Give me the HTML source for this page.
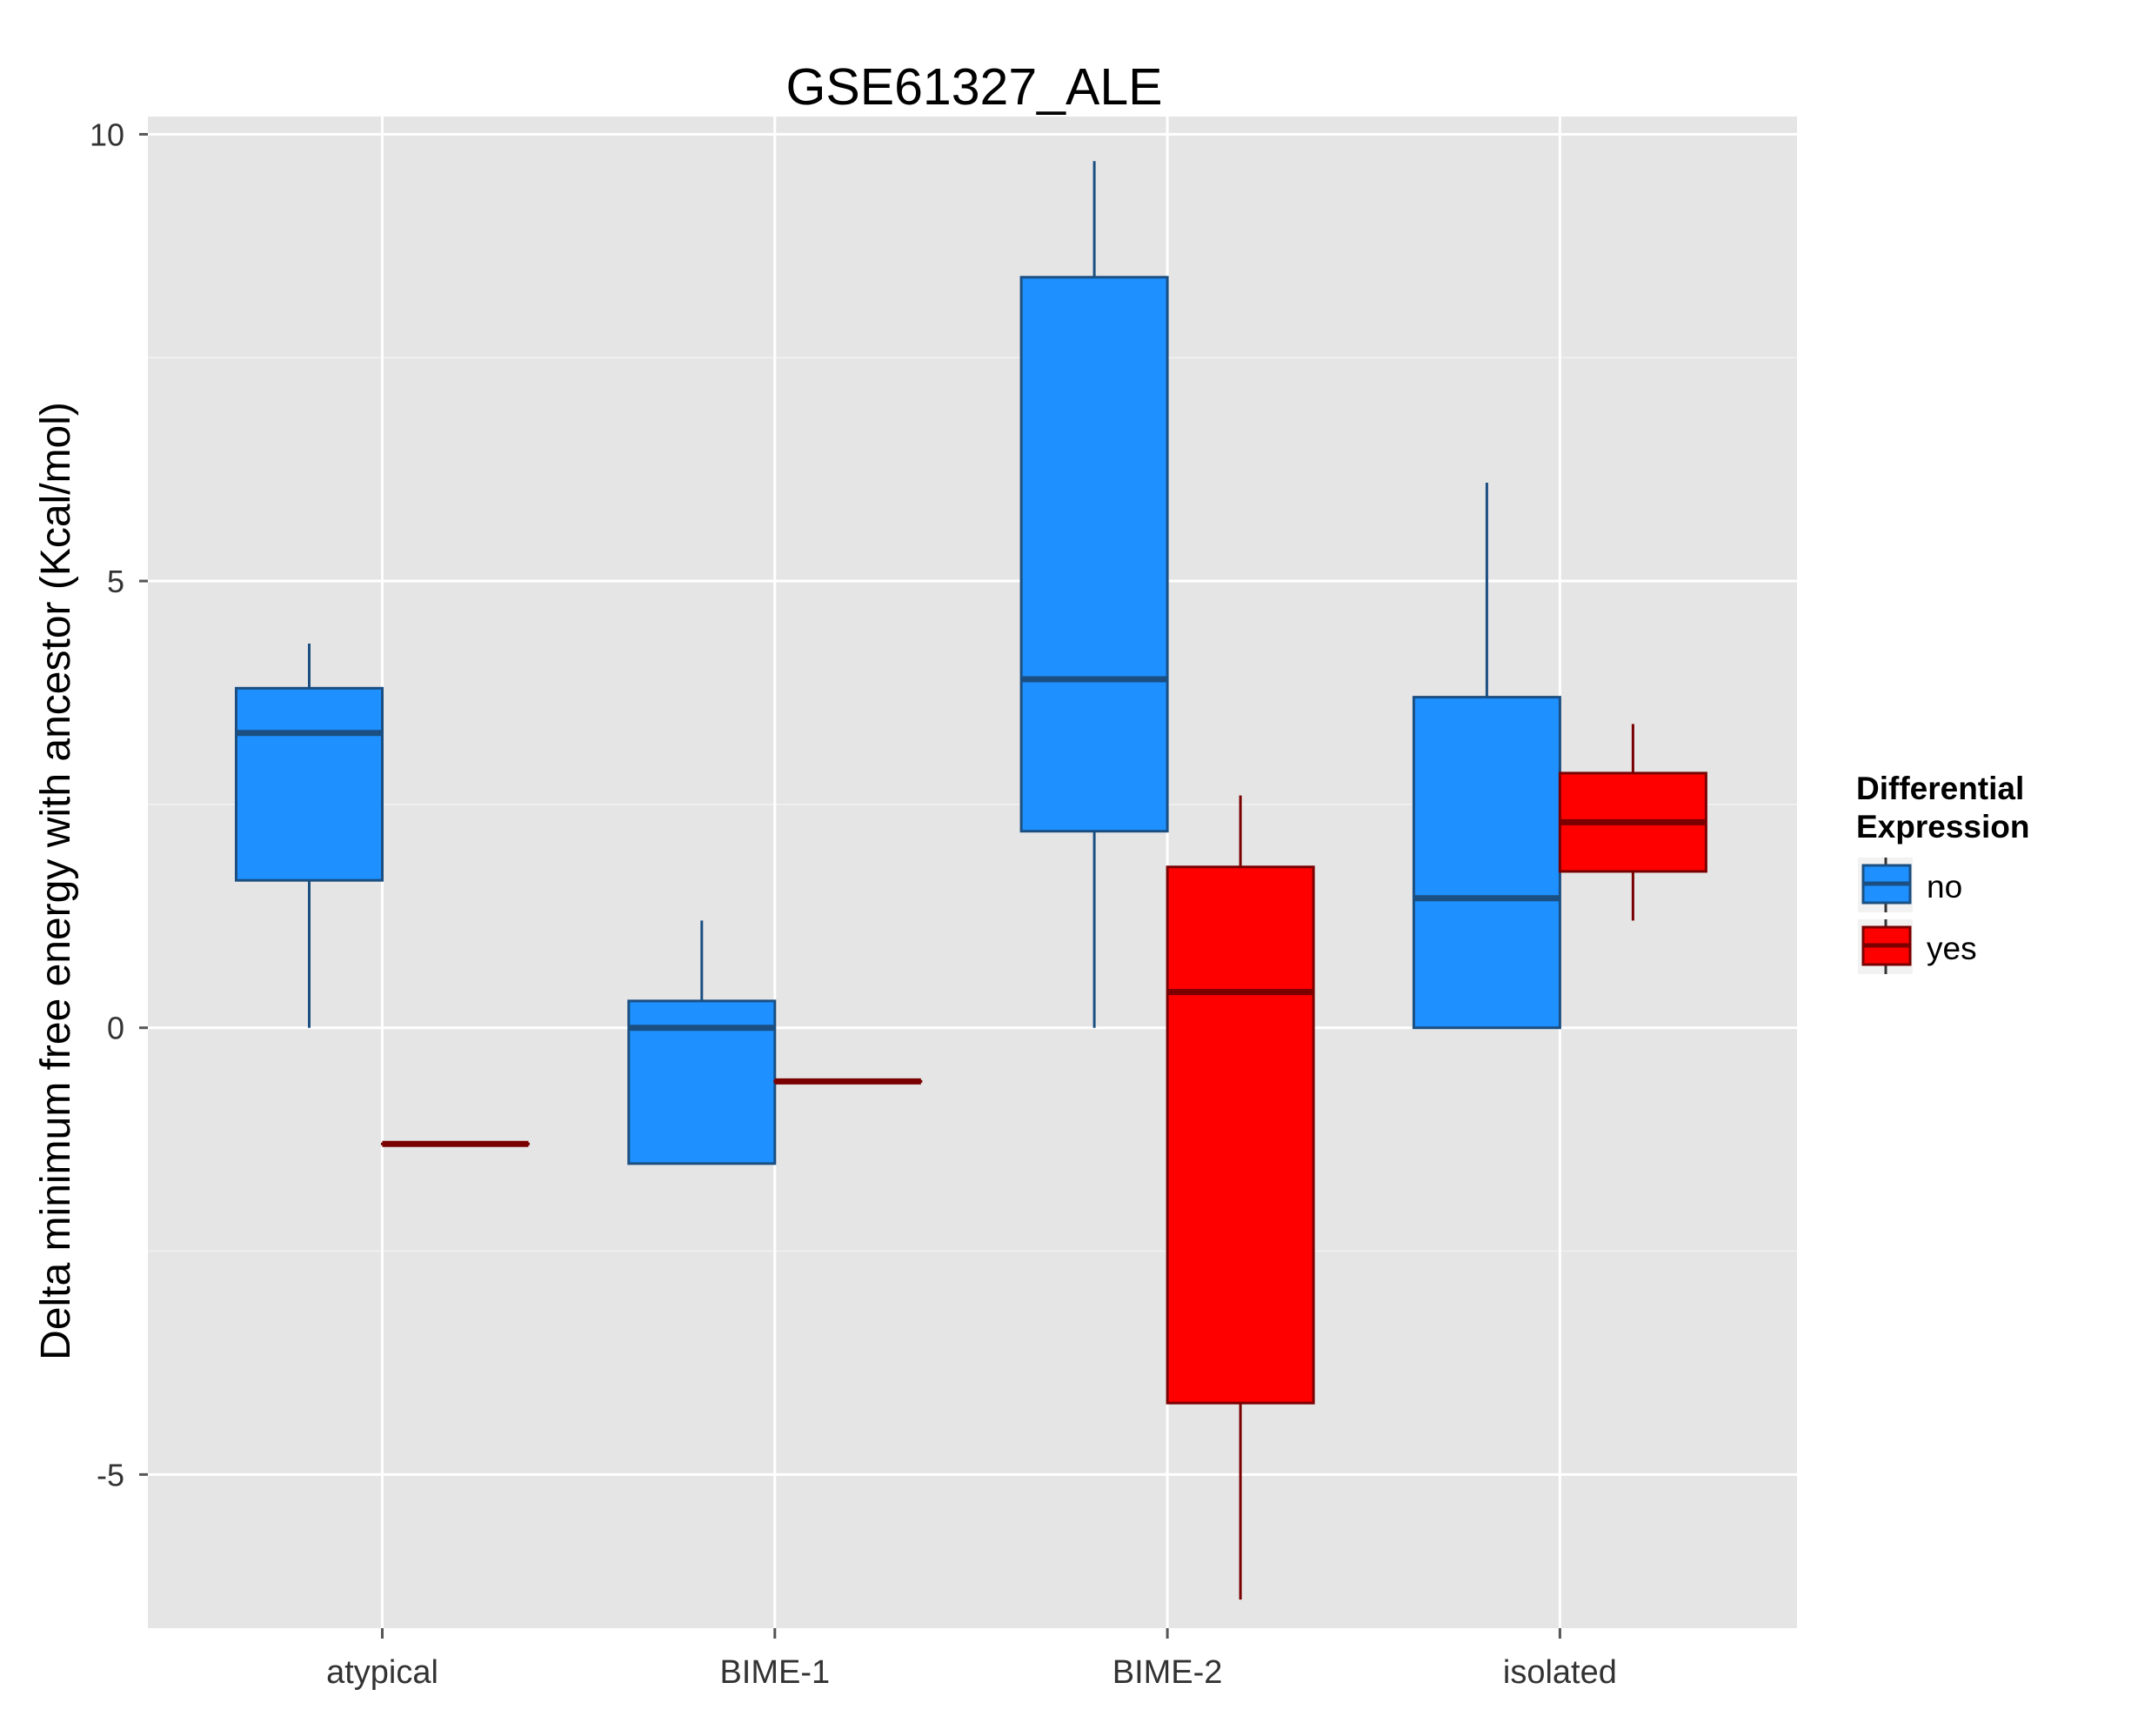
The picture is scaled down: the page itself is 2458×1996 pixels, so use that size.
<!DOCTYPE html>
<html><head><meta charset="utf-8"><style>
body{margin:0;background:#fff}
text{font-family:"Liberation Sans",sans-serif}
</style></head><body>
<svg id="chart" width="2458" height="1991" xmlns="http://www.w3.org/2000/svg">
<rect x="170" y="134" width="1896" height="1738" fill="#e5e5e5"/>
<g id="grid"></g><g id="marks"></g><g id="axes"></g>
<text x="1120" y="120" font-size="59" text-anchor="middle">GSE61327_ALE</text>
<text transform="translate(80,1013) rotate(-90)" font-size="48" text-anchor="middle">Delta minimum free energy with ancestor (Kcal/mol)</text>
<g>
<text x="2134" y="919" font-size="37" font-weight="bold">Differential</text>
<text x="2134" y="963" font-size="37" font-weight="bold">Expression</text>
<g>
<rect x="2136" y="986" width="63" height="63" fill="#f2f2f2"/>
<line x1="2168" y1="986" x2="2168" y2="1049" stroke="#333" stroke-width="3"/>
<rect x="2142" y="995" width="54" height="43" fill="#1e90ff" stroke="#1b4f82" stroke-width="3"/>
<line x1="2142" y1="1016" x2="2196" y2="1016" stroke="#1b4f82" stroke-width="5"/>
<text x="2215" y="1032" font-size="37">no</text></g>
<g>
<rect x="2136" y="1057" width="63" height="63" fill="#f2f2f2"/>
<line x1="2168" y1="1057" x2="2168" y2="1120" stroke="#333" stroke-width="3"/>
<rect x="2142" y="1066" width="54" height="43" fill="#ff0000" stroke="#7a0000" stroke-width="3"/>
<line x1="2142" y1="1087" x2="2196" y2="1087" stroke="#7a0000" stroke-width="5"/>
<text x="2215" y="1103" font-size="37">yes</text></g>
</g>
</svg>
<script>
const categories=["atypical","BIME-1","BIME-2","isolated"];
const noLow=[0,-1.52,0,0];
const noQ1=[1.65,-1.52,2.2,0];
const noMed=[3.3,0,3.9,1.45];
const noQ3=[3.8,0.3,8.4,3.7];
const noHigh=[4.3,1.2,9.7,6.1];
const yesLow=[-1.3,-0.6,-6.4,1.2];
const yesQ1=[-1.3,-0.6,-4.2,1.75];
const yesMed=[-1.3,-0.6,0.4,2.3];
const yesQ3=[-1.3,-0.6,1.8,2.85];
const yesHigh=[-1.3,-0.6,2.6,3.4];
const yTicks=[-5,0,5,10];
const yMinor=[-7.5,-2.5,2.5,7.5];
const NS="http://www.w3.org/2000/svg";
const y=v=>1181.7-v*102.73;
const x=i=>439.5+i*451.3;
const bw=168;
function mk(tag,attrs,parent){const e=document.createElementNS(NS,tag);for(const k in attrs)e.setAttribute(k,attrs[k]);document.getElementById(parent).appendChild(e);return e;}
yMinor.forEach(v=>{if(y(v)>1872)return;const l=mk('line',{x1:170,x2:2066,y1:y(v),y2:y(v),stroke:'#f2f2f2','stroke-width':1.5},'grid');

});
yTicks.forEach(v=>{const l=mk('line',{x1:170,x2:2066,y1:y(v),y2:y(v),stroke:'#fff','stroke-width':3},'grid');


const t=mk('line',{x1:160,x2:170,y1:y(v),y2:y(v),stroke:'#555','stroke-width':3},'axes');


const tx=mk('text',{x:143,y:y(v)+13,'font-size':36,'text-anchor':'end',fill:'#333'},'axes');tx.textContent=String(v);

});
categories.forEach((c,i)=>{const l=mk('line',{x1:x(i),x2:x(i),y1:134,y2:1872,stroke:'#fff','stroke-width':3},'grid');


const t=mk('line',{x1:x(i),x2:x(i),y1:1872,y2:1884,stroke:'#555','stroke-width':3},'axes');


const tx=mk('text',{x:x(i),y:1935,'font-size':38,'text-anchor':'middle',fill:'#333'},'axes');tx.textContent=c;

});
function box(i,cx,lo,q1,md,q3,hi,fill,stroke,name){
const g=mk('g',{},'marks');


const id='b'+name;g.id=id;
mk('line',{x1:cx,x2:cx,y1:y(hi),y2:y(q3),stroke:stroke,'stroke-width':3},id);
mk('line',{x1:cx,x2:cx,y1:y(q1),y2:y(lo),stroke:stroke,'stroke-width':3},id);
mk('rect',{x:cx-bw/2,y:y(q3),width:bw,height:Math.max(0.01,y(q1)-y(q3)),fill:fill,stroke:stroke,'stroke-width':3},id);
mk('line',{x1:cx-bw/2,x2:cx+bw/2,y1:y(md),y2:y(md),stroke:stroke,'stroke-width':7},id);}
categories.forEach((c,i)=>{
box(i,x(i)-bw/2,noLow[i],noQ1[i],noMed[i],noQ3[i],noHigh[i],'#1e90ff','#1b4f82','box-no-'+c);
box(i,x(i)+bw/2,yesLow[i],yesQ1[i],yesMed[i],yesQ3[i],yesHigh[i],'#ff0000','#7a0000','box-yes-'+c);});
</script>
</body></html>
